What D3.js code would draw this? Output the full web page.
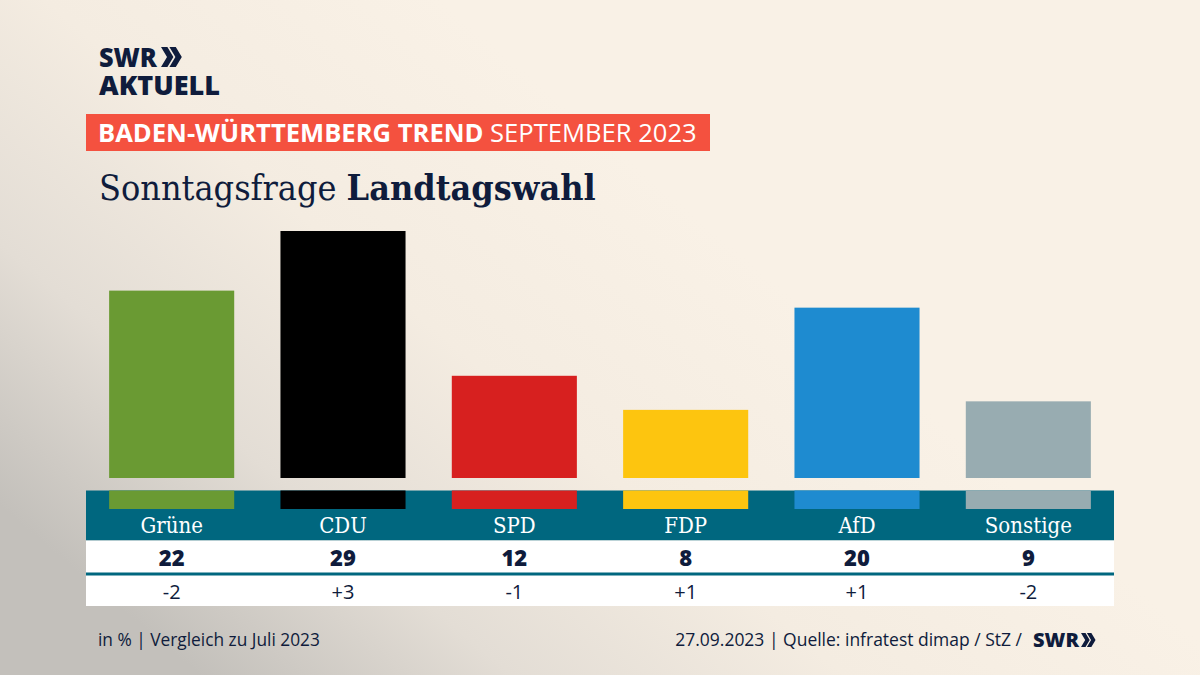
<!DOCTYPE html>
<html><head><meta charset="utf-8">
<script src="https://cdn.jsdelivr.net/npm/d3@7"></script>
<style>html,body{margin:0;padding:0;}svg{display:block;}</style>
</head><body>
<script>
const parties = ["Grüne","CDU","SPD","FDP","AfD","Sonstige"];
const values = [22,29,12,8,20,9];
const changes = ["-2","+3","-1","+1","+1","-2"];
const colors = ["#6a9a33","#000000","#d7201f","#fdc50f","#1e8bd0","#98acb1"];

const W=1200,H=675;
const navy="#0f1c3c", teal="#00677f";
const SANS="'Open Sans', 'Noto Sans', sans-serif";
const SERIF="'DejaVu Serif', serif";

const svg=d3.select("body").append("svg").attr("width",W).attr("height",H);
const defs=svg.append("defs");
const g=defs.append("linearGradient").attr("id","bg").attr("x1","0").attr("y1","0.75").attr("x2","0.6").attr("y2","0.35");
[[0,"#c3c0bb"],[0.3,"#e3ddd5"],[0.62,"#f4ece1"],[1,"#f9f1e6"]].forEach(s=>g.append("stop").attr("offset",s[0]).attr("stop-color",s[1]));
svg.append("rect").attr("width",W).attr("height",H).attr("fill","url(#bg)");

function fit(sel,target){const n=sel.node();let fs=parseFloat(sel.attr("font-size"));const w=n.getComputedTextLength();sel.attr("font-size",fs*target/w);}
function chev(x,y,h,col){
  const s=h;
  const p=(ox)=>`M${ox},${y} L${ox+s*0.32},${y} L${ox+s*0.62},${y+s/2} L${ox+s*0.32},${y+s} L${ox},${y+s} L${ox+s*0.3},${y+s/2} Z`;
  svg.append("path").attr("d",p(x)+p(x+s*0.42)).attr("fill",col);
}

// Logo (one text block, two lines)
const logo=svg.append("text").attr("font-family",SANS).attr("font-weight",800).attr("font-size",27).attr("fill",navy);
logo.append("tspan").attr("x",99).attr("y",67).attr("textLength",58).attr("lengthAdjust","spacingAndGlyphs").text("SWR");
logo.append("tspan").attr("x",99).attr("y",95).attr("textLength",121).attr("lengthAdjust","spacingAndGlyphs").text("AKTUELL");
chev(161,47,20,navy);

// Banner
svg.append("rect").attr("x",86).attr("y",114).attr("width",624).attr("height",37).attr("fill","#f4513f");
const ban=svg.append("text").attr("x",98).attr("y",142).attr("font-family",SANS).attr("font-size",24).attr("fill","#fff");
ban.append("tspan").attr("font-weight",700).text("BADEN-WÜRTTEMBERG TREND ");
ban.append("tspan").attr("font-weight",400).text("SEPTEMBER 2023");
fit(ban,599);

// Title
const tt=svg.append("text").attr("x",99).attr("y",200).attr("font-family",SERIF).attr("font-stretch","condensed").attr("font-size",34).attr("fill",navy);
tt.append("tspan").text("Sonntagsfrage ");
tt.append("tspan").attr("font-weight",700).text("Landtagswahl");
fit(tt,497);

// Scales
const x=d3.scaleBand().domain(parties).range([86,1114]).paddingInner(0.27).paddingOuter(0.135);
const y=d3.scaleLinear().domain([0,29]).range([478,231]);

// Table
const tL=86,tR=1114;
svg.append("rect").attr("x",tL).attr("y",490.5).attr("width",tR-tL).attr("height",50).attr("fill",teal);
svg.append("rect").attr("x",tL).attr("y",540.5).attr("width",tR-tL).attr("height",65.5).attr("fill","#fff");
svg.append("rect").attr("x",tL).attr("y",572.5).attr("width",tR-tL).attr("height",3).attr("fill",teal);

// Bars
svg.selectAll("rect.bar").data(parties).join("rect").attr("class","bar")
  .attr("x",d=>x(d)).attr("width",x.bandwidth())
  .attr("y",(d,i)=>y(values[i])).attr("height",(d,i)=>y(0)-y(values[i]))
  .attr("fill",(d,i)=>colors[i]);
svg.selectAll("rect.stub").data(parties).join("rect").attr("class","stub")
  .attr("x",d=>x(d)).attr("width",x.bandwidth())
  .attr("y",490.5).attr("height",18.5)
  .attr("fill",(d,i)=>colors[i]);

// Labels
svg.selectAll("text.name").data(parties).join("text").attr("class","name")
  .attr("x",d=>x(d)+x.bandwidth()/2).attr("y",533).attr("text-anchor","middle")
  .attr("font-family",SERIF).attr("font-stretch","condensed").attr("font-size",22).attr("fill","#fff").text(d=>d);
svg.selectAll("text.val").data(parties).join("text").attr("class","val")
  .attr("x",d=>x(d)+x.bandwidth()/2).attr("y",566).attr("text-anchor","middle")
  .attr("font-family",SANS).attr("font-weight",800).attr("font-size",22).attr("fill",navy).text((d,i)=>values[i]);
svg.selectAll("text.chg").data(parties).join("text").attr("class","chg")
  .attr("x",d=>x(d)+x.bandwidth()/2).attr("y",599).attr("text-anchor","middle")
  .attr("font-family",SANS).attr("font-size",20).attr("fill",navy).text((d,i)=>changes[i]);

// Footer
const fl=svg.append("text").attr("x",98).attr("y",646).attr("font-family",SANS).attr("font-size",16).attr("fill",navy).text("in % | Vergleich zu Juli 2023");
fit(fl,222);
const fr=svg.append("text").attr("x",1022).attr("y",646).attr("text-anchor","end").attr("font-family",SANS).attr("font-size",16).attr("fill",navy).text("27.09.2023 | Quelle: infratest dimap / StZ /");
fit(fr,347);
const sw2=svg.append("text").attr("x",1033).attr("y",647).attr("font-family",SANS).attr("font-weight",800).attr("font-size",20).attr("fill",navy).text("SWR");
fit(sw2,46);
chev(1081,633,14,navy);
</script>
</body></html>
